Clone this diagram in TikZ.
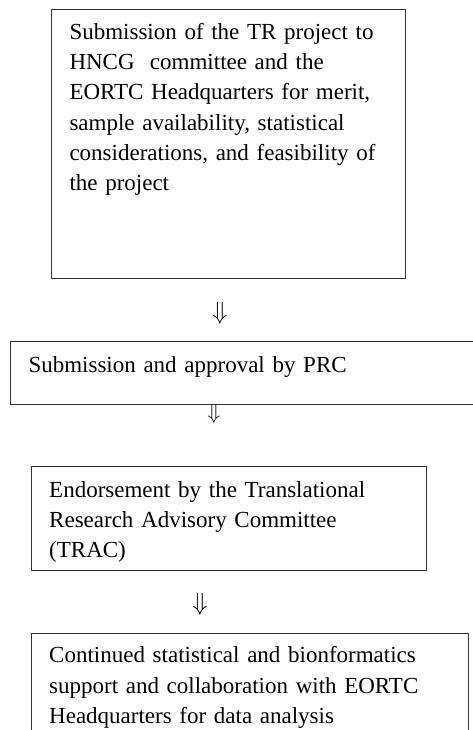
\documentclass[tikz,border=0pt]{standalone}
\usepackage{fontspec}
\setmainfont{Liberation Serif}

\begin{document}
\begin{tikzpicture}[x=1pt,y=1pt,
  box/.style={draw=black!80, line width=0.9pt},
  txt/.style={anchor=base west, inner sep=0pt, align=left, font=\fontsize{23}{30.3}\selectfont},
  arr/.style={inner sep=0pt, font=\fontsize{24.88}{25}\selectfont}]
\useasboundingbox (0,0) rectangle (473,-730);
\clip (0,0) rectangle (473,-730);

%Cadres
\draw[box] (51.7,-9) rectangle (405,-278);
\draw[box] (10,-341.7) rectangle (480,-404);
\draw[box] (31,-466) rectangle (426,-570);
\draw[box] (31,-633) rectangle (468,-740);

%Textes
\node[txt, text width=330pt] (tr) at (69.3,-39.3) {Submission of the TR project to\\ HNCG\ \ committee and the\\ EORTC Headquarters for merit,\\ sample availability, statistical\\ considerations, and feasibility of\\ the project};
\node[txt, text width=420pt] (prc) at (28.3,-372.7) {Submission and approval by PRC};
\node[txt, text width=370pt] (trac) at (49,-497.3) {Endorsement by the Translational\\ Research Advisory Committee\\ (TRAC)};
\node[txt, text width=415pt] (stat) at (49,-662.7) {Continued statistical and bionformatics\\ support and collaboration with EORTC\\ Headquarters for data analysis};

%Flèches
\node[arr] (a1) at (220,-313.5) {$\Downarrow$};
\node[arr, font=\fontsize{20.74}{21}\selectfont] (a2) at (214,-414) {$\Downarrow$};
\node[arr] (a3) at (200,-604) {$\Downarrow$};

\end{tikzpicture}
\end{document}
